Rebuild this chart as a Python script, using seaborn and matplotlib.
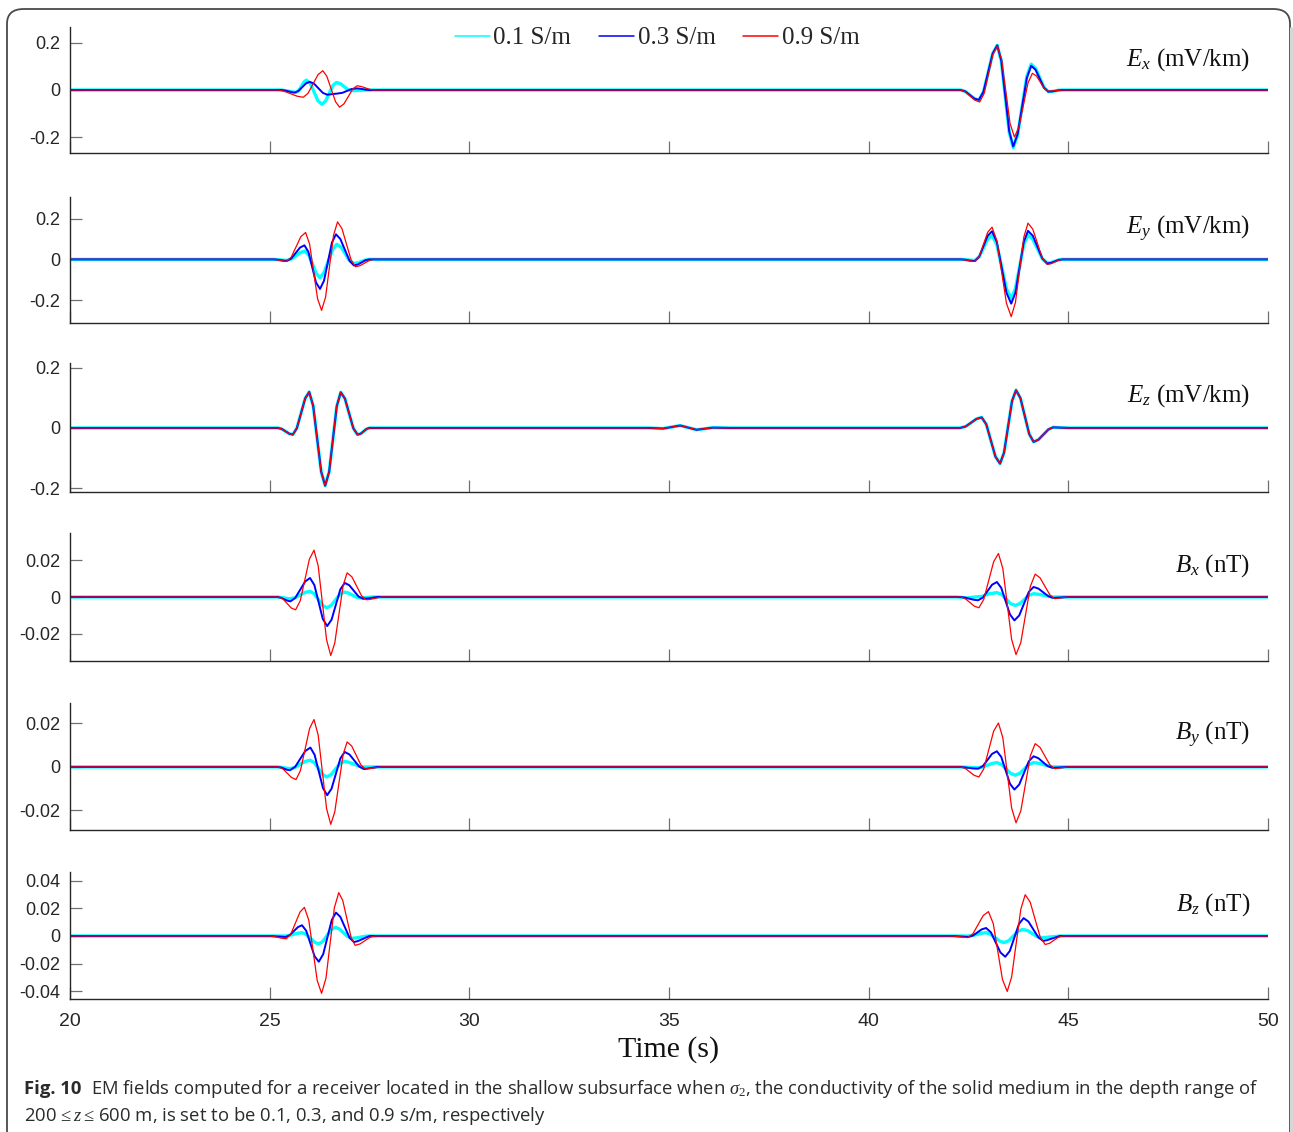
import numpy as np
import pandas as pd
import matplotlib as mpl
mpl.use("Agg")
import matplotlib.pyplot as plt
import seaborn as sns
from matplotlib.lines import Line2D
from matplotlib.patches import FancyBboxPatch

# traces: (time in s, amplitude)
ex_01 = [(20, 0), (25.3, 0), (25.57, -0.008), (25.66, -0.01), (25.73, -0.002), (25.86, 0.034), (25.92, 0.042),
         (26.02, 0.027), (26.21, -0.046), (26.31, -0.061), (26.4, -0.047), (26.58, 0.018), (26.67, 0.032),
         (26.77, 0.027), (26.96, 0.002), (27.06, -0.003), (27.4, 0),
         (42.3, 0), (42.42, -0.006), (42.65, -0.037), (42.76, -0.043), (42.875, -0.008), (43.105, 0.155),
         (43.22, 0.19), (43.32, 0.125), (43.52, -0.18), (43.62, -0.245), (43.73, -0.192), (43.96, 0.057),
         (44.07, 0.11), (44.18, 0.092), (44.39, 0.011), (44.5, -0.007), (44.59, -0.006), (44.76, -0.001),
         (44.85, 0), (50, 0)]
ex_03 = [(20, 0), (25.3, 0), (25.38, -0.002), (25.55, -0.009), (25.63, -0.011), (25.72, -0.004), (25.91, 0.028),
         (26.0, 0.035), (26.11, 0.027), (26.33, -0.012), (26.44, -0.02), (26.7, -0.015), (26.82, -0.012),
         (27.05, 0.004), (27.17, 0.007), (27.25, 0.006), (27.42, 0.001), (27.5, 0),
         (42.3, 0), (42.42, -0.006), (42.65, -0.037), (42.76, -0.042), (42.875, -0.007), (43.105, 0.155),
         (43.22, 0.19), (43.32, 0.126), (43.52, -0.176), (43.62, -0.24), (43.73, -0.188), (43.96, 0.051),
         (44.07, 0.103), (44.18, 0.086), (44.39, 0.01), (44.5, -0.007), (44.59, -0.006), (44.76, -0.001),
         (44.85, 0), (50, 0)]
ex_09 = [(20, 0), (25.2, 0), (25.36, -0.005), (25.68, -0.026), (25.84, -0.031), (25.96, -0.014), (26.21, 0.065),
         (26.33, 0.082), (26.43, 0.059), (26.65, -0.05), (26.75, -0.073), (26.86, -0.059), (27.08, 0.004),
         (27.19, 0.018), (27.29, 0.015), (27.5, 0.003), (27.6, 0),
         (42.3, 0), (42.42, -0.008), (42.66, -0.043), (42.78, -0.051), (42.89, -0.015), (43.11, 0.151),
         (43.22, 0.187), (43.33, 0.129), (43.54, -0.142), (43.65, -0.2), (43.76, -0.159), (43.99, 0.03),
         (44.1, 0.071), (44.2, 0.06), (44.4, 0.006), (44.5, -0.005), (44.59, -0.004), (44.85, 0), (50, 0)]

ey_01 = [(20, 0), (25.1, 0), (25.18, -0.001), (25.35, -0.004), (25.43, -0.005), (25.545, 0.002), (25.775, 0.034),
         (25.89, 0.041), (25.98, 0.021), (26.17, -0.07), (26.26, -0.09), (26.36, -0.065), (26.58, 0.049),
         (26.68, 0.074), (26.79, 0.06), (27.0, -0.006), (27.11, -0.02), (27.21, -0.017), (27.4, -0.003), (27.5, 0),
         (42.3, 0), (42.39, -0.001), (42.57, -0.004), (42.66, -0.005), (42.77, 0.013), (42.98, 0.1),
         (43.09, 0.118), (43.21, 0.072), (43.45, -0.144), (43.57, -0.19), (43.675, -0.143), (43.885, 0.073),
         (43.99, 0.12), (44.11, 0.099), (44.35, 0.003), (44.47, -0.018), (44.57, -0.015), (44.75, -0.003),
         (44.85, 0), (50, 0)]
ey_03 = [(20, 0), (25.1, 0), (25.18, -0.001), (25.35, -0.006), (25.43, -0.007), (25.54, 0.004), (25.76, 0.058),
         (25.87, 0.069), (25.97, 0.037), (26.16, -0.113), (26.26, -0.145), (26.36, -0.105), (26.56, 0.083),
         (26.66, 0.123), (26.77, 0.1), (27.0, -0.007), (27.11, -0.03), (27.21, -0.025), (27.4, -0.004), (27.5, 0),
         (42.3, 0), (42.39, -0.001), (42.57, -0.007), (42.66, -0.008), (42.77, 0.014), (42.98, 0.116),
         (43.09, 0.138), (43.21, 0.085), (43.45, -0.164), (43.57, -0.217), (43.675, -0.163), (43.885, 0.086),
         (43.99, 0.14), (44.11, 0.116), (44.35, 0.004), (44.47, -0.02), (44.57, -0.017), (44.75, -0.003),
         (44.85, 0), (50, 0)]
ey_09 = [(20, 0), (25.1, 0), (25.18, -0.0015), (25.34, -0.0085), (25.42, -0.01), (25.54, 0.011), (25.78, 0.111),
         (25.9, 0.132), (26.0, 0.075), (26.2, -0.193), (26.3, -0.25), (26.4, -0.185), (26.6, 0.119),
         (26.7, 0.184), (26.81, 0.151), (27.04, -0.003), (27.15, -0.036), (27.26, -0.031), (27.5, -0.005), (27.6, 0),
         (42.3, 0), (42.39, -0.0015), (42.57, -0.0085), (42.66, -0.01), (42.77, 0.015), (42.98, 0.133),
         (43.09, 0.158), (43.21, 0.092), (43.45, -0.215), (43.57, -0.281), (43.675, -0.212), (43.885, 0.109),
         (43.99, 0.178), (44.11, 0.148), (44.35, 0.005), (44.47, -0.025), (44.57, -0.021), (44.75, -0.004),
         (44.85, 0), (50, 0)]

# Ez is the same for all three conductivities
ez_01 = [(20, 0), (25.2, 0), (25.3, -0.003), (25.49, -0.019), (25.58, -0.022), (25.68, -0.001), (25.89, 0.098),
         (25.99, 0.119), (26.09, 0.073), (26.29, -0.145), (26.39, -0.191), (26.49, -0.145), (26.68, 0.072),
         (26.78, 0.118), (26.885, 0.097), (27.095, -0.001), (27.2, -0.022), (27.28, -0.019), (27.43, -0.003),
         (27.5, 0),
         (34.5, 0), (34.85, -0.002), (35.28, 0.008), (35.69, -0.006), (36.1, 0.001), (36.5, 0),
         (42.29, 0), (42.43, 0.005), (42.7, 0.03), (42.83, 0.035), (42.945, 0.012), (43.175, -0.095),
         (43.29, -0.118), (43.39, -0.082), (43.59, 0.089), (43.69, 0.125), (43.8, 0.099), (44.02, -0.02),
         (44.13, -0.046), (44.25, -0.039), (44.5, -0.005), (44.62, 0.002), (45, 0), (50, 0)]
ez_03 = list(ez_01)
ez_09 = list(ez_01)

bx_01 = [(20, 0), (25.2, 0), (25.51, -0.001), (25.635, -0.0004), (25.885, 0.0025), (26.01, 0.0031),
         (26.115, 0.0018), (26.325, -0.0046), (26.43, -0.0059), (26.54, -0.0046), (26.76, 0.0014),
         (26.87, 0.0027), (26.97, 0.0022), (27.16, 0), (27.26, -0.0005), (27.6, 0),
         (42.2, 0), (42.45, -0.0005), (42.85, 0.0004), (43.02, 0.0018), (43.21, 0.0024), (43.33, 0.0014),
         (43.55, -0.0036), (43.67, -0.0046), (43.79, -0.0036), (44.01, 0.0009), (44.13, 0.0018),
         (44.25, 0.0015), (44.6, 0), (50, 0)]
bx_03 = [(20, 0), (25.2, 0), (25.28, -0.0004), (25.44, -0.002), (25.52, -0.0024), (25.64, -0.0005),
         (25.89, 0.0085), (26.01, 0.0104), (26.12, 0.0065), (26.33, -0.012), (26.44, -0.0159), (26.55, -0.0124),
         (26.77, 0.0042), (26.88, 0.0077), (26.995, 0.0064), (27.225, 0.0003), (27.34, -0.001), (27.43, -0.0008),
         (27.7, 0),
         (42.3, 0), (42.41, -0.0003), (42.63, -0.0015), (42.74, -0.0018), (42.86, -0.0003), (43.09, 0.0067),
         (43.21, 0.0082), (43.32, 0.005), (43.54, -0.0096), (43.65, -0.0128), (43.77, -0.0101), (44.01, 0.0028),
         (44.13, 0.0055), (44.25, 0.0046), (44.5, 0.0004), (44.62, -0.0005), (45, 0), (50, 0)]
bx_09 = [(20, 0), (25.22, 0), (25.33, -0.001), (25.54, -0.006), (25.65, -0.007), (25.765, -0.0021),
         (25.995, 0.0207), (26.11, 0.0256), (26.215, 0.017), (26.425, -0.0234), (26.53, -0.032),
         (26.63, -0.0252), (26.84, 0.0064), (26.94, 0.0132), (27.06, 0.011), (27.3, 0.0007), (27.42, -0.0015),
         (27.52, -0.0013), (27.8, 0),
         (42.3, 0), (42.42, -0.0009), (42.645, -0.005), (42.76, -0.0059), (42.88, -0.0014), (43.13, 0.0193),
         (43.25, 0.0238), (43.36, 0.0155), (43.58, -0.0232), (43.69, -0.0315), (43.81, -0.0249), (44.05, 0.0059),
         (44.17, 0.0125), (44.29, 0.0105), (44.54, 0.0011), (44.66, -0.0009), (45, 0), (50, 0)]

by_01 = [(20, 0), (25.2, 0), (25.51, -0.0008), (25.635, -0.0002), (25.885, 0.0025), (26.01, 0.0031),
         (26.115, 0.002), (26.325, -0.0035), (26.43, -0.0046), (26.54, -0.0035), (26.76, 0.0015),
         (26.87, 0.0026), (26.97, 0.0022), (27.3, 0),
         (42.3, 0), (42.74, -0.0004), (42.86, 0), (43.09, 0.0016), (43.21, 0.002), (43.33, 0.0011),
         (43.55, -0.0029), (43.67, -0.0038), (43.79, -0.0029), (44.01, 0.0011), (44.13, 0.002), (44.25, 0.0017),
         (44.6, 0), (50, 0)]
by_03 = [(20, 0), (25.2, 0), (25.28, -0.0002), (25.43, -0.0013), (25.51, -0.0015), (25.64, 0.0001),
         (25.89, 0.0073), (26.02, 0.0089), (26.125, 0.0056), (26.335, -0.0097), (26.44, -0.013), (26.55, -0.01),
         (26.77, 0.0039), (26.88, 0.0069), (27.0, 0.0057), (27.24, 0.0002), (27.36, -0.001), (27.7, 0),
         (42.3, 0), (42.63, -0.0007), (42.74, -0.0008), (42.86, 0.0004), (43.09, 0.006), (43.21, 0.0072),
         (43.32, 0.0046), (43.54, -0.0078), (43.65, -0.0104), (43.77, -0.0081), (44.01, 0.0026), (44.13, 0.0049),
         (44.25, 0.004), (44.48, 0.0004), (44.6, -0.0004), (45, 0), (50, 0)]
by_09 = [(20, 0), (25.22, 0), (25.33, -0.0009), (25.55, -0.0049), (25.66, -0.0058), (25.77, -0.0017),
         (26.0, 0.0177), (26.11, 0.0218), (26.215, 0.0146), (26.425, -0.0192), (26.53, -0.0264),
         (26.63, -0.0207), (26.84, 0.0058), (26.94, 0.0115), (27.055, 0.0096), (27.285, 0.0009), (27.4, -0.001),
         (27.8, 0),
         (42.3, 0), (42.42, -0.0007), (42.645, -0.0039), (42.76, -0.0046), (42.88, -0.001), (43.13, 0.0165),
         (43.25, 0.0202), (43.36, 0.0134), (43.58, -0.0189), (43.69, -0.0257), (43.81, -0.0202), (44.05, 0.0052),
         (44.17, 0.0107), (44.29, 0.009), (44.54, 0.0009), (44.66, -0.0008), (45, 0), (50, 0)]

bz_01 = [(20, 0), (25.4, 0), (25.5, 0.0004), (25.71, 0.002), (25.81, 0.0024), (25.915, 0.0012),
         (26.125, -0.0046), (26.23, -0.0058), (26.33, -0.004), (26.54, 0.0045), (26.64, 0.0063),
         (26.745, 0.0051), (26.955, -0.0005), (27.06, -0.0017), (27.16, -0.0014), (27.45, 0),
         (42.5, 0), (42.61, 0.0004), (42.83, 0.002), (42.94, 0.0024), (43.05, 0.0013), (43.28, -0.0037),
         (43.39, -0.0048), (43.51, -0.0034), (43.74, 0.0034), (43.86, 0.0048), (43.98, 0.0039),
         (44.21, -0.0003), (44.33, -0.0012), (44.45, -0.001), (44.8, 0), (50, 0)]
bz_03 = [(20, 0), (25.0, 0), (25.4, -0.0007), (25.5, 0.0006), (25.71, 0.0065), (25.81, 0.0078),
         (25.915, 0.0038), (26.125, -0.0147), (26.23, -0.0187), (26.34, -0.0133), (26.555, 0.0116),
         (26.66, 0.017), (26.77, 0.0139), (27.0, -0.0013), (27.11, -0.0044), (27.21, -0.0037), (27.5, 0),
         (42.1, 0), (42.5, -0.0007), (42.61, 0.0003), (42.83, 0.0048), (42.94, 0.0058), (43.06, 0.0027),
         (43.3, -0.012), (43.42, -0.0151), (43.535, -0.0109), (43.765, 0.0088), (43.88, 0.013), (44.0, 0.0105),
         (44.25, -0.0011), (44.37, -0.0036), (44.47, -0.003), (44.79, 0), (50, 0)]
bz_09 = [(20, 0), (25.0, 0), (25.1, -0.0003), (25.31, -0.0017), (25.42, -0.002), (25.53, 0.0014),
         (25.76, 0.0174), (25.87, 0.0208), (25.98, 0.0114), (26.19, -0.0323), (26.3, -0.0417), (26.41, -0.0307),
         (26.62, 0.0205), (26.73, 0.0315), (26.83, 0.0258), (27.04, -0.0011), (27.14, -0.0068), (27.26, -0.0058),
         (27.51, -0.001), (27.63, 0),
         (42.1, 0), (42.48, -0.0012), (42.61, 0.0016), (42.87, 0.0149), (43.0, 0.0177), (43.12, 0.009),
         (43.35, -0.0316), (43.47, -0.0403), (43.58, -0.0298), (43.81, 0.0195), (43.92, 0.03), (44.045, 0.0246),
         (44.295, -0.0008), (44.42, -0.0062), (44.53, -0.0053), (44.75, -0.0009), (44.86, 0), (50, 0)]

sigmas = ['0.1 S/m', '0.3 S/m', '0.9 S/m']
x_ticks = [20, 25, 30, 35, 40, 45, 50]
e_ticks = [-0.2, 0, 0.2]
e_ticklabels = ['-0.2', '0', '0.2']
b_ticks = [-0.02, 0, 0.02]
b_ticklabels = ['-0.02', '0', '0.02']
bz_ticks = [-0.04, -0.02, 0, 0.02, 0.04]
bz_ticklabels = ['-0.04', '-0.02', '0', '0.02', '0.04']

COLORS = {'0.1 S/m': '#00ffff', '0.3 S/m': '#0000ff', '0.9 S/m': '#ff0000'}
WIDTHS = {'0.1 S/m': 2.4, '0.3 S/m': 1.4, '0.9 S/m': 0.9}

sns.set_theme(style='white')
plt.rcParams['font.family'] = ['Liberation Sans', 'DejaVu Sans']
plt.rcParams['axes.unicode_minus'] = False
plt.rcParams['mathtext.fontset'] = 'custom'
plt.rcParams['mathtext.rm'] = 'Liberation Serif'
plt.rcParams['mathtext.it'] = 'Liberation Serif:italic'

W, H = 1293, 1132
fig = plt.figure(figsize=(W / 100, H / 100), dpi=100)

# outer rounded frame of the published figure
frame = FancyBboxPatch((7 / W, -0.05), (1290 - 7) / W, 1 - 9 / H + 0.05,
                       boxstyle='round,pad=0,rounding_size=0.013', transform=fig.transFigure,
                       fill=False, edgecolor='#4a4a4a', lw=1.3, zorder=0)
fig.patches.append(frame)
fig.add_artist(Line2D([1290.5 / W, 1290.5 / W], [0, 1 - 28 / H], transform=fig.transFigure,
                      color='#d6d6d6', lw=2.2, zorder=1))

panels = [
    (r'$E_x$ (mV/km)', (ex_01, ex_03, ex_09), (-0.268, 0.268), e_ticks, e_ticklabels, (27, 153)),
    (r'$E_y$ (mV/km)', (ey_01, ey_03, ey_09), (-0.312, 0.306), e_ticks, e_ticklabels, (197, 323)),
    (r'$E_z$ (mV/km)', (ez_01, ez_03, ez_09), (-0.212, 0.215), e_ticks, e_ticklabels, (363, 492)),
    (r'$B_x$ (nT)', (bx_01, bx_03, bx_09), (-0.035, 0.035), b_ticks, b_ticklabels, (533, 661)),
    (r'$B_y$ (nT)', (by_01, by_03, by_09), (-0.029, 0.0294), b_ticks, b_ticklabels, (703, 830)),
    (r'$B_z$ (nT)', (bz_01, bz_03, bz_09), (-0.0458, 0.0465), bz_ticks, bz_ticklabels, (872, 999)),
]

x0, x1 = 70, 1268
for i, (label, traces, ylim, yt, ytl, (top, bot)) in enumerate(panels):
    ax = fig.add_axes([x0 / W, 1 - bot / H, (x1 - x0) / W, (bot - top) / H])
    rows = []
    for sig, tr in zip(sigmas, traces):
        for t, v in tr:
            rows.append((t, v, sig))
    df = pd.DataFrame(rows, columns=['time', 'value', 'sigma'])
    sns.lineplot(data=df, x='time', y='value', hue='sigma', hue_order=sigmas, palette=COLORS,
                 size='sigma', size_order=sigmas, sizes=WIDTHS, estimator=None, sort=False,
                 legend=False, ax=ax)
    ax.set_xlim(20, 50)
    ax.set_ylim(*ylim)
    ax.set_xticks(x_ticks)
    ax.set_yticks(yt)
    ax.set_yticklabels(ytl)
    ax.set_xlabel('')
    ax.set_ylabel('')
    for s in ['top', 'right']:
        ax.spines[s].set_visible(False)
    for s in ['left', 'bottom']:
        ax.spines[s].set_color('#262626')
        ax.spines[s].set_linewidth(1.0)
    ax.tick_params(axis='both', direction='in', length=8.5, width=0.9, color='#707070',
                   labelcolor='#262626', bottom=True, left=True)
    ax.tick_params(axis='y', pad=7, labelsize=13)
    ax.tick_params(axis='x', pad=10, labelsize=14)
    if i < len(panels) - 1:
        ax.set_xticklabels([])
    else:
        ax.set_xticklabels([str(x) for x in x_ticks])
    ax.set_facecolor('none')
    ax.text(0.985, 0.745, label, transform=ax.transAxes, ha='right', va='center',
            family='Liberation Serif', fontsize=18, color='#111111')

handles = [Line2D([], [], color=COLORS[s], lw=1.1) for s in sigmas]
fig.legend(handles, sigmas, loc='center', bbox_to_anchor=(657 / W, 1 - 38 / H), ncol=3,
           frameon=False, handlelength=1.4, handletextpad=0.15, columnspacing=1.1,
           prop={'family': 'Liberation Serif', 'size': 18})

fig.text(669 / W, 1 - 1050 / H, 'Time (s)', ha='center', va='center',
         family='Liberation Serif', fontsize=21.5, color='#111111')

# caption
cap_family = ['Open Sans', 'DejaVu Sans']
cap_size = 12
renderer = fig.canvas.get_renderer()
bold = fig.text(24 / W, 1 - 1089 / H, 'Fig. 10', ha='left', va='center', family=cap_family,
                weight='bold', fontsize=cap_size, color='#2b2b2b')
bb = bold.get_window_extent(renderer)
rest = fig.text(bb.x1 / W + 10 / W, 1 - 1089 / H,
                r'EM fields computed for a receiver located in the shallow subsurface when $\sigma_2$, '
                r'the conductivity of the solid medium in the depth range of',
                ha='left', va='center', family=cap_family, fontsize=cap_size, color='#2b2b2b')
# fit line width to the reference
rb = rest.get_window_extent(renderer)
scale = (1257 - 24) / (rb.x1 - bb.x0)
cap_size *= scale
bold.set_fontsize(cap_size)
bb = bold.get_window_extent(renderer)
rest.set_fontsize(cap_size)
rest.set_x(bb.x1 / W + 10 / W)
fig.text(24 / W, 1 - 1116 / H,
         r'200$\,\leq z\leq\,$600 m, is set to be 0.1, 0.3, and 0.9 s/m, respectively',
         ha='left', va='center', family=cap_family, fontsize=cap_size, color='#2b2b2b')

fig.savefig('out.png', dpi=100, facecolor='white')
